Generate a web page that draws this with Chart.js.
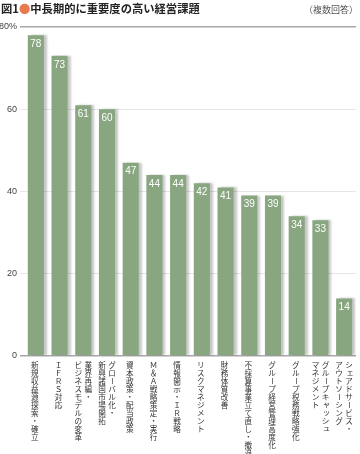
<!DOCTYPE html>
<html>
<head>
<meta charset="utf-8">
<script src="https://cdn.jsdelivr.net/npm/chart.js@4/dist/chart.umd.min.js"></script>
<style>
  html, body { margin: 0; padding: 0; background: #fff; }
  #wrap { position: relative; width: 360px; height: 454px; }
  #title { position: absolute; left: 1px; top: 0px; font: bold 11.3px 'Noto Sans CJK JP', sans-serif; color: #222; white-space: nowrap; }
  #title .dot { color: #e8794f; }
  #note { position: absolute; right: 2px; top: 3px; font: 9px 'Noto Sans CJK JP', sans-serif; color: #555; }
</style>
</head>
<body>
<div id="wrap">
  <canvas id="chart" width="360" height="454"></canvas>
  <div id="title">図1<span class="dot">●</span>中長期的に重要度の高い経営課題</div>
  <div id="note">（複数回答）</div>
</div>
<script>
// 各課題の回答割合 (%)
const categories = [
  ['新規収益源探索・確立'],
  ['ＩＦＲＳ対応'],
  ['業界再編・', 'ビジネスモデルの変革'],
  ['グローバル化・', '新興諸国市場開拓'],
  ['資本政策・配当政策'],
  ['Ｍ＆Ａ戦略策定・実行'],
  ['情報開示・ＩＲ戦略'],
  ['リスクマネジメント'],
  ['財務体質改善'],
  ['不採算事業立て直し・撤退'],
  ['グループ経営管理高度化'],
  ['グループ税務戦略強化'],
  ['グループキャッシュ', 'マネジメント'],
  ['シェアドサービス・', 'アウトソーシング']
];
const values = [78, 73, 61, 60, 47, 44, 44, 42, 41, 39, 39, 34, 33, 14];
const yTicks = [0, 20, 40, 60, 80];

const BAR_COLOR = '#88a67f';

// 棒の右側に影
const shadowPlugin = {
  id: 'barShadow',
  beforeDatasetsDraw(chart) {
    const ctx = chart.ctx;
    ctx.save();
    ctx.shadowColor = 'rgba(0,0,0,0.22)';
    ctx.shadowOffsetX = 3;
    ctx.shadowOffsetY = 0;
    ctx.shadowBlur = 2;
  },
  afterDatasetsDraw(chart) {
    chart.ctx.restore();
  }
};

// 棒の上部に数値（白字）
const valuePlugin = {
  id: 'valueLabels',
  afterDatasetsDraw(chart) {
    const ctx = chart.ctx;
    const meta = chart.getDatasetMeta(0);
    ctx.save();
    ctx.fillStyle = '#fff';
    ctx.font = '10px "Liberation Sans", Arial, sans-serif';
    ctx.textAlign = 'center';
    ctx.textBaseline = 'top';
    meta.data.forEach((bar, i) => {
      ctx.fillText(String(values[i]), bar.x, bar.y + 4);
    });
    ctx.restore();
  }
};

// 縦書きのカテゴリラベル
const smallKana = 'ャュョッァィゥェォ';
const verticalLabels = {
  id: 'verticalLabels',
  afterDraw(chart) {
    const ctx = chart.ctx;
    const xs = chart.scales.x;
    const top = chart.chartArea.bottom + 5;
    const step = 8;
    ctx.save();
    ctx.fillStyle = '#333';
    ctx.font = '7.6px "Noto Sans CJK JP", sans-serif';
    ctx.textAlign = 'center';
    ctx.textBaseline = 'middle';
    categories.forEach((lines, i) => {
      const cx = xs.getPixelForValue(i);
      lines.forEach((line, j) => {
        // 一行目を右、二行目を左
        const x = lines.length === 1 ? cx - 1 : cx + 5 - j * 10;
        [...line].forEach((ch, k) => {
          const y = top + k * step + step / 2;
          if (ch === 'ー') {
            ctx.save();
            ctx.translate(x, y);
            ctx.rotate(Math.PI / 2);
            ctx.fillText(ch, 0, 0);
            ctx.restore();
          } else if (smallKana.includes(ch)) {
            ctx.fillText(ch, x + 1, y - 1);
          } else {
            ctx.fillText(ch, x, y);
          }
        });
      });
    });
    ctx.restore();
  }
};

new Chart(document.getElementById('chart'), {
  type: 'bar',
  data: {
    labels: categories.map(c => c.join('')),
    datasets: [{
      data: values,
      backgroundColor: BAR_COLOR,
      borderWidth: 0,
      barPercentage: 0.68,
      categoryPercentage: 1
    }]
  },
  options: {
    responsive: false,
    animation: false,
    layout: { padding: { top: 27, right: 4, bottom: 98, left: 0 } },
    plugins: { legend: { display: false }, tooltip: { enabled: false } },
    scales: {
      x: {
        afterFit(scale) { scale.height = 0; scale.paddingTop = 0; scale.paddingBottom = 0; },
        grid: { display: false, drawTicks: false },
        border: { display: false },
        ticks: { display: false }
      },
      y: {
        min: 0,
        max: 80,
        afterFit(scale) { scale.width = 24; scale.paddingTop = 0; scale.paddingBottom = 0; },
        afterBuildTicks(scale) { scale.ticks = yTicks.map(v => ({ value: v })); },
        border: { display: false },
        grid: {
          color: c => (c.tick && (c.tick.value === 80 || c.tick.value === 0)) ? '#a8a8a8' : '#e6e6e6',
          lineWidth: c => (c.tick && (c.tick.value === 80 || c.tick.value === 0)) ? 1.5 : 1,
          tickLength: 4,
          tickColor: c => (c.tick && (c.tick.value === 80 || c.tick.value === 0)) ? '#a8a8a8' : '#e6e6e6'
        },
        ticks: {
          padding: 3,
          color: '#444',
          font: { size: 9, family: '"Liberation Sans", Arial, sans-serif' },
          callback: v => v === 80 ? '80%' : v
        }
      }
    }
  },
  plugins: [shadowPlugin, valuePlugin, verticalLabels]
});
</script>
</body>
</html>
